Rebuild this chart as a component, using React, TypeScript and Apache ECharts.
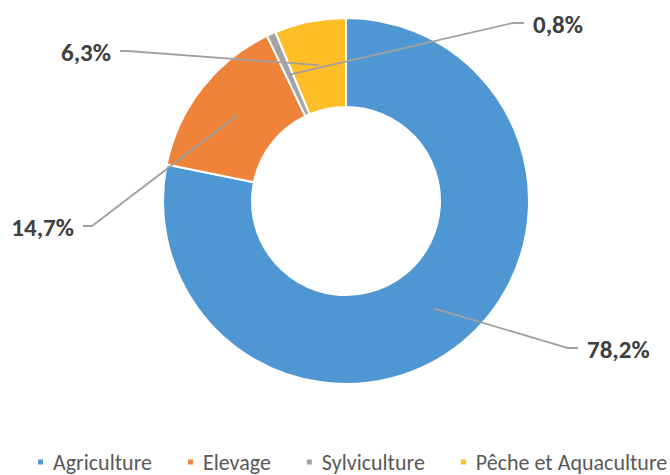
import React, { useEffect, useRef } from "react";
import * as echarts from "echarts";

const categories = ["Agriculture", "Elevage", "Sylviculture", "Pêche et Aquaculture"];
const shares = [78.2, 14.7, 0.8, 6.3];
const colors = ["#4E97D3", "#EF8339", "#A3A3A3", "#FDBF25"];

// label placement (layout only): text edge x, centre y, side, elbow x
const labelPlacement = [
  { x: 587, y: 349, align: "left", elbow: 568 },
  { x: 74, y: 227, align: "right", elbow: 92 },
  { x: 533, y: 24, align: "left", elbow: 513 },
  { x: 111, y: 52, align: "right", elbow: 128 },
];

const CX = 346;
const CY = 201;
const R_IN = 94;
const R_OUT = 183;
const FONT = "Carlito, Calibri, 'Open Sans', sans-serif";

export default function App() {
  const ref = useRef<HTMLDivElement>(null);
  useEffect(() => {
    if (!ref.current) return;
    const chart = echarts.init(ref.current, undefined, { renderer: "svg" });
    chart.setOption({
      animation: false,
      color: colors,
      legend: {
        left: 36,
        top: 451,
        width: 650,
        padding: 0,
        icon: "rect",
        itemWidth: 7,
        itemHeight: 7,
        itemGap: 34,
        data: categories,
        textStyle: {
          fontFamily: FONT,
          fontSize: 22,
          lineHeight: 20,
          color: "#595959",
          padding: [0, 0, 0, 4],
        },
      },
      series: [
        {
          type: "pie",
          center: [CX, CY],
          radius: [R_IN, R_OUT],
          startAngle: 90,
          clockwise: true,
          avoidLabelOverlap: false,
          itemStyle: { borderColor: "#ffffff", borderWidth: 2 },
          data: categories.map((name, i) => ({ name, value: shares[i] })),
          label: {
            show: true,
            position: "outside",
            formatter: (p: any) => p.value.toFixed(1).replace(".", ",") + "%",
            fontFamily: FONT,
            fontWeight: "bold",
            fontSize: 25,
            color: "#404040",
          },
          labelLine: { show: false },
          labelLayout: (params: any) => {
            const pl = labelPlacement[params.dataIndex];
            return {
              x: pl.x,
              y: pl.y,
              align: pl.align,
              verticalAlign: "middle",
            };
          },
        },
      ],
    });

    // leader lines: from the middle of each ring segment (library layout) to its label
    const data = (chart as any).getModel().getSeriesByIndex(0).getData();
    const leaders = shares.map((_, i) => {
      const l = data.getItemLayout(i);
      const mid = (l.startAngle + l.endAngle) / 2;
      const rm = (l.r + l.r0) / 2;
      const sx = l.cx + rm * Math.cos(mid);
      const sy = l.cy + rm * Math.sin(mid);
      const pl = labelPlacement[i];
      const endX = pl.align === "left" ? pl.x - 9 : pl.x + 9;
      const lineY = pl.y - 1;
      return {
        type: "polyline",
        z: 10,
        silent: true,
        shape: { points: [[sx, sy], [pl.elbow, lineY], [endX, lineY]] },
        style: { stroke: "#A0A0A0", lineWidth: 1.8, fill: "none" },
      };
    });
    chart.setOption({ graphic: leaders });

    return () => chart.dispose();
  }, []);
  return (
    <div
      ref={ref}
      style={{ position: "fixed", left: 0, top: 0, width: 670, height: 475, background: "#fff" }}
    />
  );
}
